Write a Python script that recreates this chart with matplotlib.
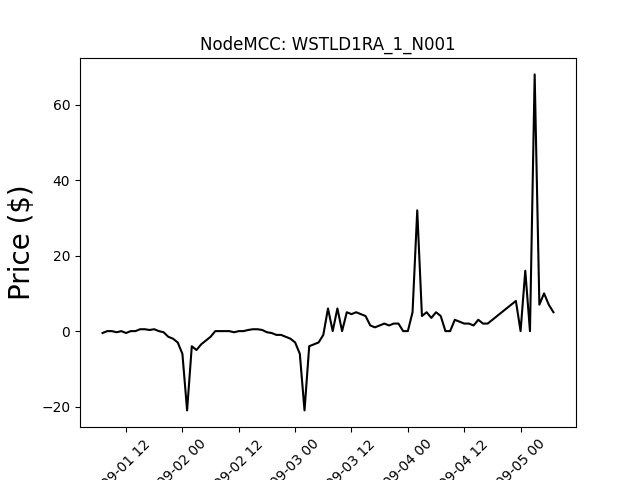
import matplotlib
matplotlib.use("Agg")
import matplotlib.pyplot as plt
import matplotlib.dates as mdates
import pandas as pd

start = "2020-09-01 07:00"
prices = [-0.5, 0, 0, -0.3, 0, -0.5, 0, 0, 0.5, 0.5, 0.3, 0.5, 0, -0.3, -1.5, -2, -3, -6,
          -21, -4, -5, -3.5, -2.5, -1.5, 0, 0, 0, 0, -0.3, 0, 0, 0.3, 0.5, 0.5, 0.3, -0.3,
          -0.5, -1, -1, -1.5, -2, -3, -6, -21, -4, -3.5, -3, -1, 6, 0, 6, 0, 5, 4.5,
          5, 4.5, 4, 1.5, 1, 1.5, 2, 1.5, 2, 2, 0, 0, 5, 32, 4, 5, 3.5, 5,
          4, 0, 0, 3, 2.5, 2, 2, 1.5, 3, 2, 2, 3, 4, 5, 6, 7, 8, 0,
          16, 0, 68, 7, 10, 7, 5]
times = pd.date_range(start, periods=len(prices), freq="h")

fig, ax = plt.subplots(figsize=(6.4, 4.8), dpi=100)
ax.plot(times, prices, color="black")
ax.set_title("NodeMCC: WSTLD1RA_1_N001")
ax.set_ylabel("Price ($)", fontsize=20)
ax.xaxis.set_major_locator(mdates.HourLocator(byhour=[0, 12]))
ax.xaxis.set_major_formatter(mdates.DateFormatter("%m-%d %H"))
plt.setp(ax.get_xticklabels(), rotation=45)
ax.set_yticks([-20, 0, 20, 40, 60])
fig.savefig("out.png")
